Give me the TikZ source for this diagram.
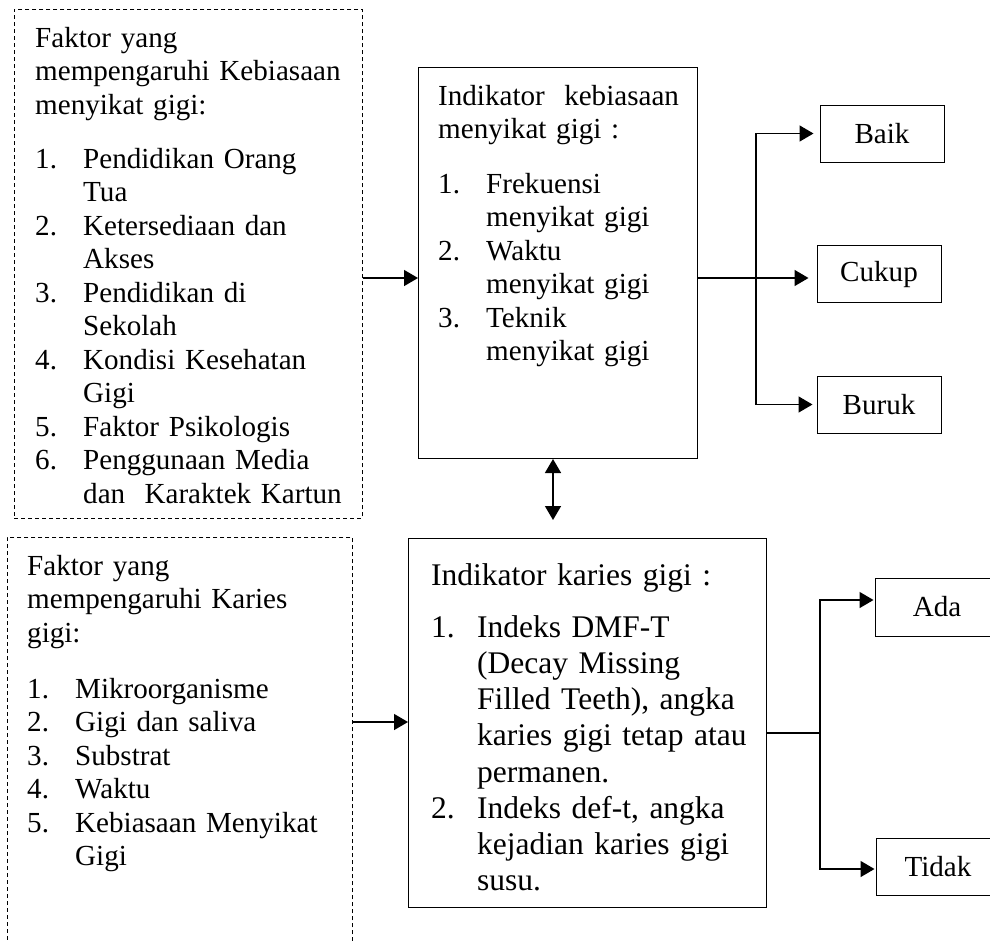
\documentclass[tikz,border=0pt]{standalone}
\usepackage{fontspec}
\setmainfont{Liberation Serif}
\usetikzlibrary{arrows.meta}
\newcommand{\nitem}[2]{\makebox[48pt][l]{#1}#2}
\newcommand{\ncont}[1]{\hspace*{48pt}#1}
\newcommand{\ditem}[2]{\makebox[46pt][l]{#1}#2}
\newcommand{\dcont}[1]{\hspace*{46pt}#1}
\begin{document}
\begin{tikzpicture}[x=1pt,y=-1pt,
  fbox/.style={draw, line width=1pt, inner sep=0pt, anchor=north west},
  dbox/.style={fbox, line width=0.9pt, dash pattern=on 4pt off 3pt},
  txt/.style={inner sep=0pt, anchor=base west, align=left, text width=#1,
    font=\fontsize{29.1}{33.5}\selectfont},
  txtd/.style={txt=#1, font=\fontsize{31.5}{36.2}\selectfont},
  obox/.style={draw, line width=1pt, inner sep=0pt, minimum width=124pt,
    minimum height=57pt, font=\fontsize{29.1}{33.5}\selectfont},
  ln/.style={line width=1.5pt},
  arr/.style={line width=1.5pt, -{Triangle[length=14pt,width=16pt]}},
  dbl/.style={line width=1.5pt, {Triangle[length=14pt,width=16pt]}-{Triangle[length=14pt,width=16pt]}}
]
\clip (0,0) rectangle (990,940);
\fill[white] (0,0) rectangle (990,940);

% boxes
\node[dbox, minimum width=348pt, minimum height=509pt] (A) at (14,9) {};
\node[dbox, minimum width=345pt, minimum height=430pt] (B) at (7,537) {};
\node[fbox, minimum width=279pt, minimum height=391pt] (C) at (418,67) {};
\node[fbox, minimum width=358pt, minimum height=369pt] (D) at (408,538) {};

\node[obox] (baik) at (882,133.5) {Baik};
\node[obox] (cukup) at (879,274) {Cukup};
\node[obox] (buruk) at (879,404.5) {Buruk};
\node[obox, minimum height=58pt] (ada) at (937,607) {Ada};
\node[obox] (tidak) at (938,866.5) {Tidak};

% texts
\node[txt=330pt] (At) at (35,47) {Faktor yang\\
mempengaruhi Kebiasaan\\
menyikat gigi:\\[20.5pt]
\nitem{1.}{Pendidikan Orang}\\
\ncont{Tua}\\
\nitem{2.}{Ketersediaan dan}\\
\ncont{Akses}\\
\nitem{3.}{Pendidikan di}\\
\ncont{Sekolah}\\
\nitem{4.}{Kondisi Kesehatan}\\
\ncont{Gigi}\\
\nitem{5.}{Faktor Psikologis}\\
\nitem{6.}{Penggunaan Media}\\
\ncont{dan~ Karaktek Kartun}};

\node[txt=260pt] (Ct) at (438,105) {Indikator~ kebiasaan\\
menyikat gigi :\\[21pt]
\nitem{1.}{Frekuensi}\\
\ncont{menyikat gigi}\\
\nitem{2.}{Waktu}\\
\ncont{menyikat gigi}\\
\nitem{3.}{Teknik}\\
\ncont{menyikat gigi}};

\node[txt=320pt] (Bt) at (27,575) {Faktor yang\\
mempengaruhi Karies\\
gigi:\\[22.5pt]
\nitem{1.}{Mikroorganisme}\\
\nitem{2.}{Gigi dan saliva}\\
\nitem{3.}{Substrat}\\
\nitem{4.}{Waktu}\\
\nitem{5.}{Kebiasaan Menyikat}\\
\ncont{Gigi}};

\node[txtd=330pt] (Dt) at (431,585) {Indikator karies gigi :\\[16pt]
\ditem{1.}{Indeks DMF-T}\\
\dcont{(Decay Missing}\\
\dcont{Filled Teeth), angka}\\
\dcont{karies gigi tetap atau}\\
\dcont{permanen.}\\
\ditem{2.}{Indeks def-t, angka}\\
\dcont{kejadian karies gigi}\\
\dcont{susu.}};

% connectors
\coordinate (ya) at (0,278);
\coordinate (yb) at (0,722);
\coordinate (dd) at (553,520);
\coordinate (jc) at (756,0);
\coordinate (jd) at (820,0);
\coordinate (yd) at (0,733);
\coordinate (yada) at (0,600);
\coordinate (ytid) at (0,869);

\draw[arr] (A.east |- ya) -- (C.west |- ya);
\draw[arr] (B.east |- yb) -- (D.west |- yb);
\draw[dbl] (C.south -| dd) -- (dd);

\draw[arr, shorten >=8pt] (C.east |- ya) -- (cukup.west |- ya);
\draw[arr, shorten >=6pt] (jc |- buruk.west) -- (jc |- baik.west) -- (baik.west);
\draw[arr, shorten >=4pt] (jc |- baik.west) -- (jc |- buruk.west) -- (buruk.west);

\draw[ln] (D.east |- yd) -- (jd |- yd);
\draw[arr, shorten >=1pt] (jd |- ytid) -- (jd |- yada) -- (ada.west |- yada);
\draw[arr, shorten >=1pt] (jd |- yada) -- (jd |- ytid) -- (tidak.west |- ytid);
\end{tikzpicture}
\end{document}
